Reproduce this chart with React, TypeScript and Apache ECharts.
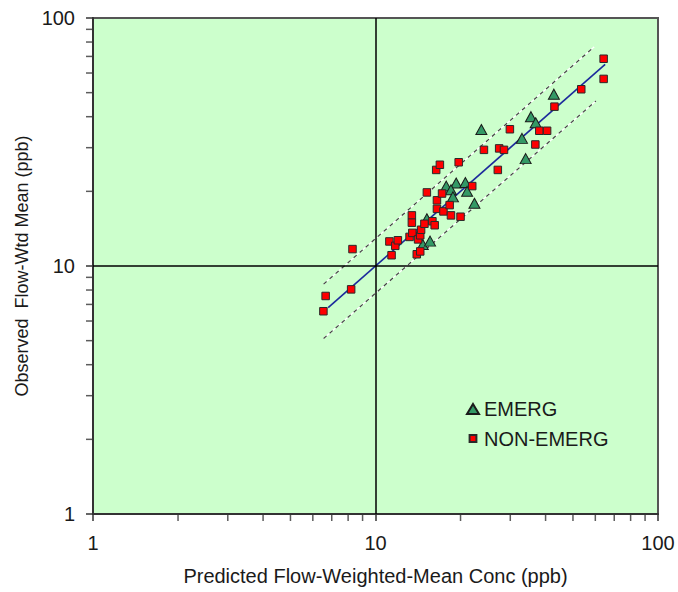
import React, { useEffect, useRef } from 'react';
import * as echarts from 'echarts';

// EMERG sites (triangles)
const emergX = [14.7, 15.6, 15.2, 17.8, 19.3, 20.8, 18.5, 18.8, 21.1, 22.4, 23.7, 33.0, 34.0, 35.5, 36.9, 42.8];
const emergY = [12.2, 12.6, 15.5, 21.0, 21.6, 21.7, 20.3, 19.0, 20.0, 17.9, 35.5, 32.7, 27.1, 40.0, 37.8, 49.3];

// NON-EMERG sites (squares)
const nonEmergX = [6.54, 6.66, 8.2, 8.29, 11.4, 11.2, 11.75, 12.0, 13.2, 13.5, 14.15, 14.4, 14.5, 14.0, 14.4, 13.45, 13.45, 14.9, 15.9, 16.2, 15.2, 16.5, 16.5, 17.4, 17.2, 18.3, 18.5, 20.0, 16.4, 16.9, 19.7, 22.0, 24.2, 27.1, 27.4, 28.5, 29.9, 36.8, 38.0, 40.5, 43.0, 53.5, 64.2, 64.2];
const nonEmergY = [6.57, 7.57, 8.05, 11.7, 11.05, 12.56, 12.06, 12.7, 13.1, 13.6, 12.8, 13.3, 14.0, 11.15, 11.45, 16.0, 14.95, 14.8, 15.15, 14.6, 19.8, 18.4, 17.0, 16.6, 19.6, 17.6, 16.0, 15.8, 24.4, 25.6, 26.2, 21.0, 29.4, 24.4, 29.8, 29.4, 35.6, 30.9, 35.1, 35.1, 43.9, 51.6, 68.5, 56.8];

// 1:1 line and prediction band
const fitLineX = [6.8, 65];
const fitLineY = [6.8, 65];
const upperBandX = [6.55, 59.5];
const upperBandY = [8.45, 76.6];
const lowerBandX = [6.55, 60.3];
const lowerBandY = [5.1, 46.3];

// axes
const axisMin = 1;
const axisMax = 100;
const minorTicks = [2, 3, 4, 5, 6, 7, 8, 9, 20, 30, 40, 50, 60, 70, 80, 90];
const crossValue = 10;

const xTitle = 'Predicted Flow-Weighted-Mean Conc (ppb)';
const yTitle = 'Observed  Flow-Wtd Mean (ppb)';

const zip = (xs: number[], ys: number[]) => xs.map((x, i) => [x, ys[i]]);

const FONT = 'Liberation Sans, Arial, sans-serif';
const TEXT = '#1a1a1a';

export default function App() {
  const ref = useRef<HTMLDivElement>(null);
  useEffect(() => {
    if (!ref.current) return;
    const chart = echarts.init(ref.current, undefined, { renderer: 'svg' });
    const axisCommon = {
      type: 'log' as const,
      logBase: 10,
      min: axisMin,
      max: axisMax,
      nameLocation: 'middle' as const,
      axisLine: { show: true, lineStyle: { color: '#333', width: 2 } },
      axisTick: { show: true, inside: false, length: 7, lineStyle: { color: '#333', width: 1.5 } },
      minorTick: { show: false },
      splitLine: { show: false },
      axisLabel: { fontSize: 20, color: TEXT, fontFamily: FONT },
    };
    chart.setOption({
      animation: false,
      backgroundColor: '#ffffff',
      grid: {
        left: 93,
        right: 20,
        top: 18,
        bottom: 78,
        show: true,
        backgroundColor: '#ccffcc',
        borderColor: '#555',
        borderWidth: 2,
      },
      xAxis: {
        ...axisCommon,
        name: xTitle,
        nameGap: 52,
        nameTextStyle: { fontSize: 20, color: TEXT, fontFamily: FONT },
        axisLabel: { ...axisCommon.axisLabel, margin: 19 },
      },
      yAxis: {
        ...axisCommon,
        name: yTitle,
        nameGap: 61,
        nameRotate: 90,
        nameTextStyle: { fontSize: 18, color: TEXT, fontFamily: FONT },
        axisLabel: { ...axisCommon.axisLabel, margin: 18 },
      },
      legend: {
        orient: 'vertical',
        left: 466,
        top: 399,
        padding: 0,
        itemWidth: 12,
        itemHeight: 10,
        itemGap: 9.5,
        textStyle: { fontSize: 20, color: TEXT, fontFamily: FONT, lineHeight: 20 },
        data: [
          { name: 'EMERG', icon: 'triangle' },
          { name: 'NON-EMERG', icon: 'path://M0,0M10,10M1.6,1.6h6.8v6.8h-6.8z' },
        ],
      },
      series: [
        {
          name: 'upperWhite',
          type: 'line',
          data: zip(upperBandX, upperBandY),
          symbol: 'none',
          silent: true,
          z: 2,
          lineStyle: { color: '#ffffff', width: 1.2 },
        },
        {
          name: 'upperDash',
          type: 'line',
          data: zip(upperBandX, upperBandY),
          symbol: 'none',
          silent: true,
          z: 3,
          lineStyle: { color: '#444', width: 1.2, type: [4, 4] },
        },
        {
          name: 'lowerWhite',
          type: 'line',
          data: zip(lowerBandX, lowerBandY),
          symbol: 'none',
          silent: true,
          z: 2,
          lineStyle: { color: '#ffffff', width: 1.2 },
        },
        {
          name: 'lowerDash',
          type: 'line',
          data: zip(lowerBandX, lowerBandY),
          symbol: 'none',
          silent: true,
          z: 3,
          lineStyle: { color: '#444', width: 1.2, type: [4, 4] },
        },
        {
          name: 'fit',
          type: 'line',
          data: zip(fitLineX, fitLineY),
          symbol: 'none',
          silent: true,
          z: 3,
          lineStyle: { color: '#1c2a9c', width: 1.6 },
          markLine: {
            silent: true,
            symbol: 'none',
            label: { show: false },
            lineStyle: { color: '#000', width: 1.5, type: 'solid' },
            data: [{ xAxis: crossValue }, { yAxis: crossValue }],
          },
        },
        {
          name: 'EMERG',
          type: 'scatter',
          symbol: 'triangle',
          symbolSize: [11, 10],
          data: zip(emergX, emergY),
          z: 4,
          itemStyle: { color: '#339966', borderColor: '#1a1a1a', borderWidth: 1, opacity: 1 },
        },
        {
          name: 'NON-EMERG',
          type: 'scatter',
          symbol: 'rect',
          symbolSize: 7.5,
          data: zip(nonEmergX, nonEmergY),
          z: 5,
          itemStyle: { color: '#ff0000', borderColor: '#2a2a2a', borderWidth: 1, opacity: 1 },
        },
        {
          name: 'xMinorTicks',
          type: 'scatter',
          symbol: 'rect',
          symbolSize: [1.5, 6],
          symbolOffset: [0, 4],
          clip: false,
          silent: true,
          z: 6,
          data: minorTicks.map((v) => [v, axisMin]),
          itemStyle: { color: '#333' },
        },
        {
          name: 'yMinorTicks',
          type: 'scatter',
          symbol: 'rect',
          symbolSize: [6, 1.5],
          symbolOffset: [-4, 0],
          clip: false,
          silent: true,
          z: 6,
          data: minorTicks.map((v) => [axisMin, v]),
          itemStyle: { color: '#333' },
        },
      ],
    });
    return () => chart.dispose();
  }, []);
  return (
    <div
      ref={ref}
      style={{ position: 'fixed', left: 0, top: 0, width: 678, height: 592 }}
    />
  );
}
